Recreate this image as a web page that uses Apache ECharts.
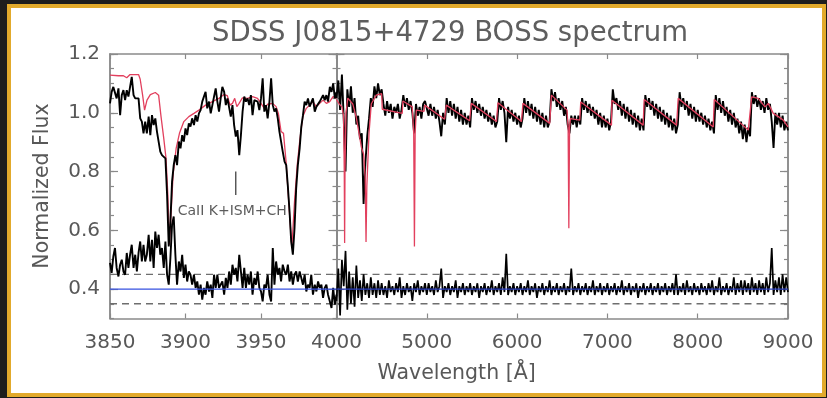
<!DOCTYPE html>
<html><head><meta charset="utf-8">
<script src="https://cdn.jsdelivr.net/npm/echarts@6/dist/echarts.min.js"></script>
<style>
html,body{margin:0;padding:0;width:827px;height:398px;overflow:hidden;background:#1d1d1d;}
#frame{position:absolute;left:7px;top:4px;width:811px;height:385px;border:4px solid #e2aa2c;background:#fff;}
#chart{position:absolute;left:0;top:0;width:827px;height:398px;}
</style></head><body>
<div id="frame"></div><div id="chart"></div>
<script>
// ---------- data ----------
const titleText = 'SDSS J0815+4729 BOSS spectrum';
const xName = 'Wavelength [Å]';
const yName = 'Normalized Flux';
const annotText = 'CaII K+ISM+CH';
const annotLineX = 3933.3;
const annotLineY = [0.80, 0.72];
const annotTextPos = [3931, 0.663];

const leftTicks = [3850, 3900, 3950, 4000];
const rightTicks = [4000, 5000, 6000, 7000, 8000, 9000];
const yTickLabels = [0.4, 0.6, 0.8, 1.0, 1.2];
const dashLevels = [0.35, 0.45];
const blueLevel = 0.40;

const leftWave = [
3850.0,3851.1,3852.2,3853.3,3854.4,3855.6,3856.7,3857.8,3858.9,
3860.0,3861.1,3862.2,3863.3,3864.4,3865.6,3866.7,3867.8,3868.9,
3870.0,3871.1,3872.2,3873.3,3874.4,3875.6,3876.7,3877.8,3878.9,
3880.0,3881.1,3882.2,3883.3,3884.4,3885.6,3886.7,3887.8,3888.9,
3890.0,3891.1,3892.2,3893.3,3894.4,3895.6,3896.7,3897.8,3898.9,
3900.0,3901.1,3902.2,3903.3,3904.4,3905.6,3906.7,3907.8,3908.9,
3910.0,3911.1,3912.2,3913.3,3914.4,3915.6,3916.7,3917.8,3918.9,
3920.0,3921.1,3922.2,3923.3,3924.4,3925.6,3926.7,3927.8,3928.9,
3930.0,3931.1,3932.2,3933.3,3934.4,3935.6,3936.7,3937.8,3938.9,
3940.0,3941.1,3942.2,3943.3,3944.4,3945.6,3946.7,3947.8,3948.9,
3950.0,3951.1,3952.2,3953.3,3954.4,3955.6,3956.7,3957.8,3958.9,
3960.0,3961.1,3962.2,3963.3,3964.4,3965.6,3966.7,3967.8,3968.9,
3970.0,3971.1,3972.2,3973.3,3974.4,3975.6,3976.7,3977.8,3978.9,
3980.0,3981.1,3982.2,3983.3,3984.4,3985.6,3986.7,3987.8,3988.9,
3990.0,3991.1,3992.2,3993.3,3994.4,3995.6,3996.7,3997.8,3998.9,
4000.0];

const leftFlux = [
1.032,1.071,1.088,1.088,1.049,1.083,0.992,1.060,1.077,1.043,
1.077,1.055,1.088,1.122,1.060,1.049,1.055,1.049,0.981,0.970,
0.930,0.970,0.930,0.987,0.924,0.992,0.958,0.981,0.936,0.902,
0.868,0.856,0.856,0.845,0.721,0.545,0.630,0.766,0.822,0.856,
0.822,0.902,0.879,0.924,0.902,0.947,0.924,0.964,0.953,0.981,
0.958,0.992,0.970,0.998,1.009,1.038,1.055,1.071,1.015,1.038,
0.998,1.026,1.055,1.083,1.038,1.004,
1.049,1.088,1.071,1.026,1.049,1.055,0.987,1.026,0.958,0.919,
0.941,0.856,0.924,1.004,1.055,1.038,1.049,1.026,1.060,0.992,
1.043,1.049,1.038,1.009,1.049,1.117,1.004,1.026,0.981,1.038,
1.117,1.026,1.004,1.015,0.981,0.936,0.941,0.868,0.834,0.822,
0.749,0.664,0.562,0.517,0.607,0.743,0.822,0.879,0.953,0.992,
1.038,1.026,1.049,1.021,1.026,1.049,1.004,1.021,1.026,1.038,
1.038,1.060,1.043,1.060,1.038,1.088,1.071,1.100,1.049,1.071];

const leftLower = [
0.489,0.455,0.511,0.540,0.472,0.443,0.483,0.500,0.460,0.449,
0.523,0.472,0.517,0.551,0.472,0.517,0.460,0.523,0.562,0.494,
0.551,0.494,0.517,0.585,0.494,0.568,0.472,0.596,0.540,0.585,
0.517,0.540,0.472,0.562,0.449,0.415,0.506,0.619,0.647,0.517,
0.415,0.494,0.460,0.517,0.438,0.483,0.426,0.460,0.449,0.415,
0.449,0.404,0.426,0.381,0.415,0.364,0.404,0.381,0.426,0.392,
0.415,0.370,0.449,0.404,0.449,0.404,
0.404,0.426,0.381,0.438,0.404,0.460,0.415,0.483,0.449,0.472,
0.426,0.517,0.460,0.404,0.472,0.404,0.449,0.415,0.460,0.381,
0.438,0.415,0.460,0.404,0.392,0.358,0.415,0.404,0.449,0.381,
0.358,0.540,0.415,0.494,0.449,0.472,0.426,0.483,0.460,0.449,
0.483,0.426,0.460,0.415,0.449,0.460,0.426,0.460,0.438,0.415,
0.449,0.392,0.415,0.404,0.449,0.381,0.415,0.392,0.426,0.404,
0.415,0.370,0.404,0.415,0.381,0.358,0.336,0.404,0.347,0.381];

const leftModelWave = [3850,3855.6,3858.9,3861.1,3863.3,3868.9,3870.0,3871.6,3872.9,3874.5,3876.7,3880.0,3882.2,3883.8,3885.6,3887.1,3888.3,3889.4,3890.5,3891.8,3893.8,3896.0,3898.9,3902.2,3905.6,3908.9,3913.3,3917.8,3922.2,
3925.5,3927.7,3929.5,3931.1,3932.6,3934.0,3935.5,3937.7,3941.1,3944.4,3947.7,3950.0,3952.2,3954.4,3957.7,3960.0,3961.5,3963.3,3964.9,3966.6,3968.2,3970.4,3972.2,3974.0,3975.7,3977.7,3980.0,3982.2,3984.4,3986.6,3988.9,3991.1,3993.3,3995.5,3997.7,4000.0];
const leftModelFlux = [1.128,1.126,1.126,1.119,1.130,1.130,1.114,1.060,1.009,1.043,1.062,1.069,1.060,0.987,0.913,0.845,0.721,0.551,0.664,0.789,0.879,0.930,0.970,0.987,0.998,1.009,1.026,1.038,1.049,
1.062,1.058,1.026,1.032,1.049,1.021,1.032,1.051,1.049,1.055,1.049,1.032,1.015,1.029,1.032,1.021,0.998,0.936,0.930,0.834,0.709,0.540,0.698,0.822,0.907,0.987,1.015,1.026,1.038,1.021,1.032,1.043,1.032,1.038,1.055,1.049];

const rightWave = [
4000,4020,4040,4060,4080,4100,4120,4140,4160,4180,4200,4220,4240,4260,4280,4300,4320,4340,4360,4380,4400,4420,4440,4460,4480,
4500,4520,4540,4560,4580,4600,4620,4640,4660,4680,4700,4720,4740,4760,4780,4800,4820,4840,4860,4880,4900,4920,4940,4960,4980,
5000,5020,5040,5060,5080,5100,5120,5140,5160,5180,5200,5220,5240,5260,5280,5300,5320,5340,5360,5380,5400,5420,5440,5460,5480,
5500,5520,5540,5560,5580,5600,5620,5640,5660,5680,5700,5720,5740,5760,5780,5800,5820,5840,5860,5880,5900,5920,5940,5960,5980,
6000,6020,6040,6060,6080,6100,6120,6140,6160,6180,6200,6220,6240,6260,6280,6300,6320,6340,6360,6380,6400,6420,6440,6460,6480,
6500,6520,6540,6560,6580,6600,6620,6640,6660,6680,6700,6720,6740,6760,6780,6800,6820,6840,6860,6880,6900,6920,6940,6960,6980,
7000,7020,7040,7060,7080,7100,7120,7140,7160,7180,7200,7220,7240,7260,7280,7300,7320,7340,7360,7380,7400,7420,7440,7460,7480,
7500,7520,7540,7560,7580,7600,7620,7640,7660,7680,7700,7720,7740,7760,7780,7800,7820,7840,7860,7880,7900,7920,7940,7960,7980,
8000,8020,8040,8060,8080,8100,8120,8140,8160,8180,8200,8220,8240,8260,8280,8300,8320,8340,8360,8380,8400,8420,8440,8460,8480,
8500,8520,8540,8560,8580,8600,8620,8640,8660,8680,8700,8720,8740,8760,8780,8800,8820,8840,8860,8880,8900,8920,8940,8960,8980,
9000];

const rightFlux = [
1.05,1.11,1.01,1.13,0.98,0.80,1.08,1.02,1.09,1.00,1.05,0.96,0.99,0.91,0.93,0.69,0.83,0.92,0.98,1.05,1.02,1.09,1.05,1.10,1.06,
1.08,1.03,0.99,1.04,1.00,1.03,0.98,1.02,1.00,1.03,0.98,1.01,1.06,1.02,1.05,1.01,1.04,1.00,0.93,1.03,0.99,1.02,0.98,1.03,1.04,
1.04,0.99,1.03,0.99,1.02,0.98,1.01,0.97,0.92,1.00,0.96,1.05,1.00,1.04,0.99,1.03,0.98,1.02,0.97,1.01,0.96,1.00,0.96,0.99,0.95,
1.05,1.01,1.04,1.00,1.03,0.99,1.02,0.98,1.01,0.97,1.00,0.96,0.99,0.95,0.97,1.05,1.01,1.04,1.00,0.90,1.02,0.98,1.01,0.97,1.00,
0.96,0.99,0.95,0.98,1.05,1.00,1.04,0.99,1.03,0.98,1.02,0.97,1.01,0.96,1.00,0.95,0.99,0.95,0.97,1.08,1.04,1.07,1.02,1.05,1.01,
1.04,0.99,1.02,0.96,0.93,0.99,0.96,0.99,0.95,0.99,0.96,1.05,1.01,1.04,1.00,1.03,0.99,1.02,0.98,1.01,0.96,1.00,0.95,0.99,0.95,
0.98,0.94,0.97,1.08,1.03,1.05,1.01,1.04,0.99,1.03,0.98,1.02,0.97,1.01,0.96,1.00,0.95,0.99,0.94,0.98,0.94,1.06,1.02,1.05,1.01,
1.04,0.99,1.03,0.98,1.02,0.97,1.01,0.96,1.00,0.95,0.99,0.94,0.98,0.93,0.96,1.07,1.02,1.05,1.01,1.04,0.99,1.03,0.98,1.02,0.97,
1.01,0.97,1.00,0.96,0.99,0.95,0.98,0.94,0.97,0.93,1.06,1.01,1.05,1.00,1.04,0.99,1.02,0.97,1.01,0.96,1.00,0.95,0.98,0.93,0.97,
0.91,0.96,0.90,0.95,0.92,1.07,1.03,1.06,1.02,1.05,1.01,1.04,1.00,1.05,1.01,1.03,0.97,0.88,1.00,0.96,1.00,0.95,0.99,0.94,0.97,
0.94];

const rightLower = [
0.36,0.47,0.31,0.50,0.41,0.53,0.33,0.46,0.35,0.44,0.34,0.48,0.37,0.43,0.36,0.45,0.38,0.42,0.37,0.44,0.38,0.42,0.37,0.43,0.38,
0.42,0.38,0.41,0.37,0.43,0.39,0.41,0.38,0.42,0.39,0.44,0.37,0.41,0.38,0.42,0.39,0.41,0.36,0.42,0.39,0.43,0.38,0.41,0.39,0.42,
0.38,0.42,0.39,0.41,0.38,0.43,0.39,0.41,0.47,0.37,0.41,0.39,0.42,0.38,0.41,0.39,0.43,0.37,0.41,0.39,0.42,0.38,0.41,0.39,0.42,
0.38,0.41,0.39,0.42,0.37,0.41,0.39,0.42,0.38,0.41,0.39,0.43,0.38,0.41,0.39,0.42,0.38,0.44,0.39,0.52,0.38,0.41,0.39,0.42,0.38,
0.41,0.39,0.42,0.38,0.41,0.39,0.43,0.38,0.41,0.39,0.42,0.37,0.41,0.39,0.42,0.38,0.41,0.39,0.43,0.38,0.41,0.39,0.42,0.38,0.41,
0.39,0.42,0.38,0.41,0.39,0.47,0.38,0.41,0.39,0.42,0.38,0.41,0.39,0.42,0.38,0.41,0.39,0.43,0.38,0.41,0.39,0.42,0.38,0.41,0.39,
0.42,0.38,0.41,0.39,0.42,0.38,0.41,0.39,0.43,0.38,0.41,0.39,0.42,0.38,0.41,0.39,0.42,0.37,0.41,0.39,0.42,0.38,0.41,0.39,0.42,
0.38,0.41,0.39,0.42,0.38,0.41,0.39,0.42,0.38,0.41,0.39,0.42,0.38,0.45,0.38,0.41,0.39,0.42,0.38,0.43,0.39,0.41,0.38,0.42,0.39,
0.41,0.38,0.42,0.39,0.41,0.38,0.42,0.39,0.43,0.38,0.41,0.39,0.44,0.38,0.41,0.39,0.42,0.38,0.41,0.39,0.44,0.38,0.42,0.39,0.43,
0.38,0.43,0.39,0.42,0.38,0.44,0.39,0.42,0.38,0.43,0.39,0.42,0.38,0.44,0.39,0.42,0.54,0.38,0.43,0.39,0.44,0.38,0.45,0.39,0.44,
0.39];

const rightModelWave = [4000,4030,4060,4078,4086,4090,4094,4105,4125,4180,4218,4257,4275,4300,4318,4327,4336,4360,4385,4440,4500,4507,4728,4735,4839,4855,4863,4871,4884,4970,4976,5197,5216,5474,5493,5771,5788,6048,6065,6361,6380,6553,6565,6573,6581,6590,6694,6705,7045,7050,7396,7407,7766,7784,8172,8183,8560,8598,8671,8745,8782,8837,8893,8948,9000];
const rightModelFlux = [1.045,1.03,1.02,0.99,0.80,0.557,0.80,1.00,1.05,1.03,0.985,0.917,0.883,0.86,0.78,0.56,0.75,0.93,1.03,1.06,1.065,1.012,0.998,1.04,1.02,0.93,0.545,0.93,1.009,1.005,1.026,0.978,1.026,0.973,1.032,0.970,1.034,0.970,1.032,0.964,1.060,1.009,0.95,0.607,0.95,0.98,0.975,1.037,0.958,1.043,0.958,1.045,0.958,1.049,0.952,1.045,0.941,1.054,1.049,1.020,1.032,0.998,0.987,0.975,0.952];

// ---------- chart ----------
const FONT = 'DejaVu Sans';
const AX = '#8a8a8a';
const TXT = '#585858';
const pairs = (xs, ys) => xs.map((x, i) => [x, ys[i]]);

function xAxis(grid, min, max, interval, pos, labels) {
  return {
    type: 'value', gridIndex: grid, position: pos, min, max, interval,
    axisLine: { show: true, onZero: false, lineStyle: { color: AX, width: 1.5 } },
    axisTick: { show: true, inside: true, length: 5, lineStyle: { color: AX, width: 1.2 } },
    splitLine: { show: false },
    axisLabel: labels ? { show: true, margin: 14, color: TXT, fontFamily: FONT, fontSize: 20,
      formatter: v => String(v),
      showMaxLabel: labels === 'nomax' ? false : true, showMinLabel: true } : { show: false }
  };
}
function yMajor(grid, pos, labels) {
  return {
    type: 'value', gridIndex: grid, position: pos, min: 0.3, max: 1.2,
    axisLine: { show: true, onZero: false, lineStyle: { color: AX, width: 1.5 } },
    axisTick: { show: true, inside: true, length: 8, customValues: yTickLabels, lineStyle: { color: AX, width: 1.2 } },
    splitLine: { show: false },
    axisLabel: labels ? { show: true, margin: 10, color: TXT, fontFamily: FONT, fontSize: 20,
      customValues: yTickLabels, formatter: v => Number(v).toFixed(1) } : { show: false }
  };
}
function yMinor(grid, pos) {
  return {
    type: 'value', gridIndex: grid, position: pos, min: 0.3, max: 1.2, interval: 0.05,
    axisLine: { show: true, onZero: false, lineStyle: { color: AX, width: 1.5 } },
    axisTick: { show: true, inside: true, length: 4, lineStyle: { color: AX, width: 1.2 } },
    splitLine: { show: false }, axisLabel: { show: false }
  };
}
function line(data, xi, yi, color, width, extra) {
  return Object.assign({
    type: 'line', xAxisIndex: xi, yAxisIndex: yi, data, symbol: 'none', silent: true,
    animation: false, lineStyle: { color, width }, clip: true
  }, extra || {});
}
const dashStyle = { color: '#6e6e6e', width: 1.4, type: [7, 5] };

const series = [];
// left panel
dashLevels.forEach(v => series.push(line([[leftTicks[0], v], [leftTicks[3], v]], 0, 0, '#6e6e6e', 1.4, { lineStyle: dashStyle })));
series.push(line(pairs(leftModelWave, leftModelFlux), 0, 0, '#e2405e', 1.3));
series.push(line(pairs(leftWave, leftFlux), 0, 0, '#000', 1.9));
series.push(line(pairs(leftWave, leftLower), 0, 0, '#000', 1.9));
series.push(line([[leftTicks[0], blueLevel], [leftTicks[3], blueLevel]], 0, 0, '#3650e0', 1.3));
series.push(line([[annotLineX, annotLineY[0]], [annotLineX, annotLineY[1]]], 0, 0, '#333', 1.2));
series.push({ type: 'scatter', xAxisIndex: 0, yAxisIndex: 0, data: [annotTextPos], symbolSize: 0, silent: true, animation: false,
  label: { show: true, position: 'inside', formatter: annotText, color: '#333', fontFamily: FONT, fontSize: 14 } });
// right panel
dashLevels.forEach(v => series.push(line([[rightTicks[0], v], [rightTicks[5], v]], 2, 4, '#6e6e6e', 1.4, { lineStyle: dashStyle })));
series.push(line(pairs(rightWave, rightFlux), 2, 4, '#000', 1.9));
series.push(line(pairs(rightModelWave, rightModelFlux), 2, 4, '#e2405e', 1.3));
series.push(line(pairs(rightWave, rightLower), 2, 4, '#000', 1.7));
series.push(line([[rightTicks[0], blueLevel], [rightTicks[5], blueLevel]], 2, 4, '#2a3fc0', 1.3));

const option = {
  animation: false,
  grid: [
    { left: 110, top: 54, width: 226.5, height: 264.5 },
    { left: 336.5, top: 54, width: 451.5, height: 264.5 }
  ],
  xAxis: [
    xAxis(0, leftTicks[0], leftTicks[3], 50, 'bottom', 'nomax'),
    xAxis(0, leftTicks[0], leftTicks[3], 50, 'top', false),
    xAxis(1, rightTicks[0], rightTicks[5], 1000, 'bottom', true),
    xAxis(1, rightTicks[0], rightTicks[5], 1000, 'top', false)
  ],
  yAxis: [
    yMajor(0, 'left', true), yMinor(0, 'left'), yMajor(0, 'right', false), yMinor(0, 'right'),
    yMajor(1, 'left', false), yMinor(1, 'left'), yMajor(1, 'right', false), yMinor(1, 'right')
  ],
  graphic: [
    { type: 'text', x: 450, y: 34, silent: true, style: { text: titleText, fill: '#5e5e5e', fontFamily: FONT, fontSize: 27.5, align: 'center', verticalAlign: 'middle' } },
    { type: 'text', x: 43, y: 186, rotation: Math.PI / 2, silent: true, style: { text: yName, fill: TXT, fontFamily: FONT, fontSize: 20.5, align: 'center', verticalAlign: 'middle' } },
    { type: 'text', x: 456.6, y: 374, silent: true, style: { text: xName, fill: TXT, fontFamily: FONT, fontSize: 20.5, align: 'center', verticalAlign: 'middle' } }
  ],
  series
};
const chart = echarts.init(document.getElementById('chart'), null, { renderer: 'canvas' });
chart.setOption(option);
</script></body></html>
